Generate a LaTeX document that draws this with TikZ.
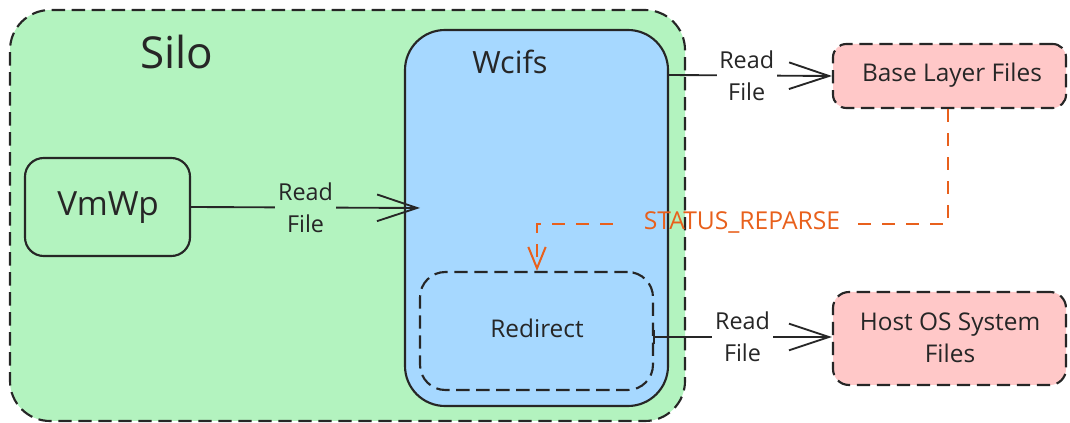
\documentclass[tikz,border=0pt]{standalone}
\usepackage{fontspec}
\setmainfont{Open Sans}
\usetikzlibrary{arrows.meta,fit,positioning}
\definecolor{silogreen}{RGB}{179,243,191}
\definecolor{wcifsblue}{RGB}{166,216,255}
\definecolor{filepink}{RGB}{255,200,200}
\definecolor{inkdark}{RGB}{38,38,38}
\definecolor{reparse}{RGB}{232,96,28}
\tikzset{
  box/.style={draw=inkdark, inner sep=0pt, line width=1.6pt, text=inkdark},
  dashbox/.style={box, dash pattern=on 10pt off 5pt},
  conn/.style={draw=inkdark, line width=1.4pt,
    -{Straight Barb[length=30pt,width=20pt,line width=1.4pt]}},
  lbl/.style={text=inkdark, align=center, font=\fontsize{17.5}{24}\selectfont,
    inner sep=2pt},
  txt/.style={text=inkdark, font=\fontsize{18.3}{22}\selectfont},
  orangeline/.style={draw=reparse, line width=1.5pt, dash pattern=on 10pt off 8pt},
}
\begin{document}
\begin{tikzpicture}[x=0.75pt,y=-0.75pt]
\useasboundingbox (0,0) rectangle (1070,423);

% outer silo container
\node[dashbox, fill=silogreen, rounded corners=30pt, fit={(10,10) (685,421)}] (silo) {};
\node[text=inkdark, font=\fontsize{33}{38}\selectfont] (silotitle) at (177,52) {Silo};

% wcifs filter
\node[box, fill=wcifsblue, rounded corners=30pt, fit={(405,30) (668,406)}] (wcifs) {};
\node[text=inkdark, font=\fontsize{23}{27}\selectfont] (wcifstitle) at (510,62) {Wcifs};

% redirect region inside wcifs
\node[dashbox, rounded corners=19pt, fit={(420,272) (653,390)}] (redirect) {};
\node[txt] (redirecttext) at (537,328) {Redirect};

% worker process
\node[box, fill=silogreen, rounded corners=14pt, fit={(25,158) (190,256)}] (vmwp) {};
\node[text=inkdark, font=\fontsize{25}{30}\selectfont] (vmwptext) at (108,208) {VmWp};

% file sources
\node[dashbox, fill=filepink, rounded corners=10pt, fit={(833,44) (1066,108)}] (base) {};
\node[txt] (basetext) at (952,75) {Base Layer Files};
\node[dashbox, fill=filepink, rounded corners=12pt, fit={(833,292) (1066,385)}] (host) {};
\node[txt, align=center, font=\fontsize{18.3}{24}\selectfont] (hosttext) at (950,338) {Host OS System\\Files};

% read paths
\coordinate (vmwpin) at (420,208);
\draw[conn] (vmwp.east) -- node[lbl, fill=silogreen] {Read\\File} (vmwpin);
\coordinate (wcifsout) at (668,75);
\draw[conn] (wcifsout) -- node[lbl, fill=white, pos=0.48] {Read\\File} (base.west);
\coordinate (redirout) at (653,337);
\draw[conn, {Bar[width=10pt,line width=1.4pt]}-{Straight Barb[length=30pt,width=20pt,line width=1.4pt]}]
  (redirout) -- node[lbl, fill=white, pos=0.5] {Read\\File} (redirout -| host.west);

% reparse notification back to the redirect region
\node[text=reparse, font=\fontsize{18.5}{22}\selectfont, inner sep=3pt] (reparsetext) at (742,222) {STATUS\_REPARSE};
\coordinate (bend) at (537,224);
\coordinate (gapright) at ([xshift=6pt]reparsetext.east |- bend);
\coordinate (gapleft) at ([xshift=-20pt]reparsetext.west |- bend);
\draw[orangeline] (base.south -| 948,0) |- (gapright);
\draw[orangeline, -{Straight Barb[length=16pt,width=13pt,line width=1.5pt]}]
  (gapleft) -- (bend) -- (redirect.north -| bend);
\end{tikzpicture}
\end{document}
